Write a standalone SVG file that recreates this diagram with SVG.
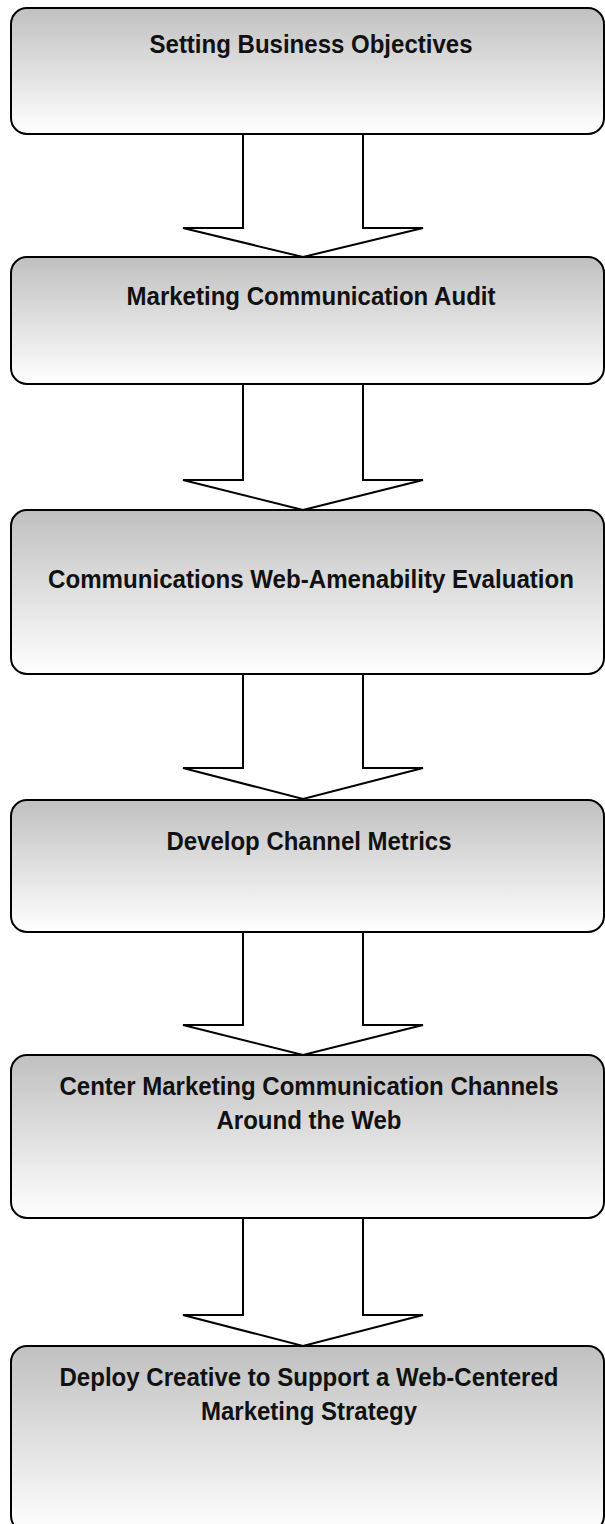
<svg xmlns="http://www.w3.org/2000/svg" width="605" height="1524" viewBox="0 0 605 1524">
<style>
.box{stroke:#000;stroke-width:2;fill:url(#g)}
.arr{fill:#fff;stroke:#000;stroke-width:2;stroke-linejoin:miter}
.t{font-family:"Liberation Sans",Arial,sans-serif;font-weight:bold;font-size:25px;fill:#111;text-anchor:middle}
</style>
<defs>
<linearGradient id="g" x1="0" y1="0" x2="0" y2="1">
<stop offset="0" stop-color="#c0c0c0"/>
<stop offset="1" stop-color="#ffffff"/>
</linearGradient>
</defs>
<rect width="605" height="1524" fill="#fff"/>
<g id="connectors">
<polygon class="arr" points="243,134 363,134 363,228 423,228 303,257 183,228 243,228"/>
<polygon class="arr" points="243,384 363,384 363,480 423,480 303,510 183,480 243,480"/>
<polygon class="arr" points="243,674 363,674 363,768 423,768 303,799 183,768 243,768"/>
<polygon class="arr" points="243,932 363,932 363,1025 423,1025 303,1055 183,1025 243,1025"/>
<polygon class="arr" points="243,1218 363,1218 363,1315 423,1315 303,1346 183,1315 243,1315"/>
</g>
<g id="n1">
<rect class="box" x="11" y="8" width="593" height="126" rx="16"/>
<text class="t" x="311" y="53" textLength="323" lengthAdjust="spacingAndGlyphs">Setting Business Objectives</text>
</g>
<g id="n2">
<rect class="box" x="11" y="257" width="593" height="127" rx="16"/>
<text class="t" x="311" y="305" textLength="369" lengthAdjust="spacingAndGlyphs">Marketing Communication Audit</text>
</g>
<g id="n3">
<rect class="box" x="11" y="510" width="593" height="164" rx="16"/>
<text class="t" x="311" y="588" textLength="526" lengthAdjust="spacingAndGlyphs">Communications Web-Amenability Evaluation</text>
</g>
<g id="n4">
<rect class="box" x="11" y="800" width="593" height="132" rx="16"/>
<text class="t" x="309" y="850" textLength="285" lengthAdjust="spacingAndGlyphs">Develop Channel Metrics</text>
</g>
<g id="n5">
<rect class="box" x="11" y="1055" width="593" height="163" rx="16"/>
<text class="t" x="309" y="1095" textLength="499" lengthAdjust="spacingAndGlyphs">Center Marketing Communication Channels</text>
<text class="t" x="309" y="1129" textLength="185" lengthAdjust="spacingAndGlyphs">Around the Web</text>
</g>
<g id="n6">
<rect class="box" x="11" y="1346" width="593" height="186" rx="16"/>
<text class="t" x="309" y="1386" textLength="499" lengthAdjust="spacingAndGlyphs">Deploy Creative to Support a Web-Centered</text>
<text class="t" x="309" y="1420" textLength="216" lengthAdjust="spacingAndGlyphs">Marketing Strategy</text>
</g>
</svg>
